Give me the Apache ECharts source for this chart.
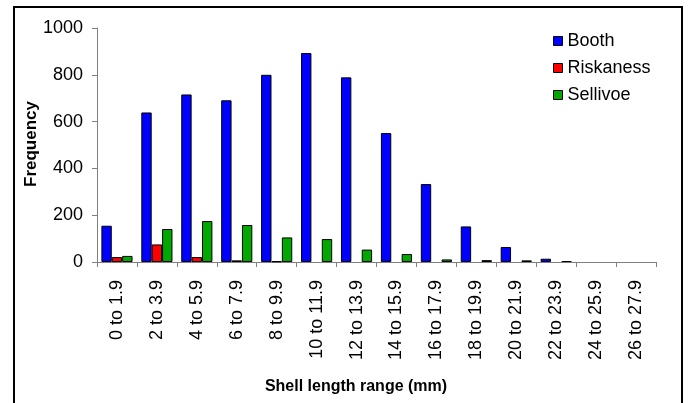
<!DOCTYPE html>
<html><head><meta charset="utf-8">
<script src="https://cdn.jsdelivr.net/npm/echarts@6/dist/echarts.min.js"></script>
<style>html,body{margin:0;padding:0;background:#fff}#c{width:689px;height:403px}</style>
</head><body><div id="c"></div>
<script>
const categories = ["0 to 1.9","2 to 3.9","4 to 5.9","6 to 7.9","8 to 9.9","10 to 11.9","12 to 13.9","14 to 15.9","16 to 17.9","18 to 19.9","20 to 21.9","22 to 23.9","24 to 25.9","26 to 27.9"];
const booth =     [155, 639, 716, 691, 800, 893, 789, 551, 333, 152, 64, 14, 0, 0];
const riskaness = [21, 75, 21, 7, 3, 0, 0, 0, 0, 0, 0, 0, 0, 0];
const sellivoe =  [26, 141, 175, 158, 105, 98, 53, 34, 11, 8, 7, 4, 0, 0];
const yTicks = [0, 200, 400, 600, 800, 1000];
const seriesNames = ["Booth", "Riskaness", "Sellivoe"];
const colors = ["#0000FF", "#FF0000", "#00A800"];

const font = "Liberation Sans, Arial, sans-serif";
const chart = echarts.init(document.getElementById('c'), null, {renderer: 'canvas'});
const mk = (name, data, color) => ({
  name, type: 'bar', data: data.map(v => v === 0 ? '-' : v), barGap: '0%', barCategoryGap: '22%',
  itemStyle: {color, borderColor: '#000', borderWidth: 1},
  silent: true
});
chart.setOption({
  animation: false,
  backgroundColor: '#fff',
  grid: {left: 97, right: 33, top: 28, bottom: 141, containLabel: false},
  legend: {
    orient: 'vertical', left: 548, top: 27, itemGap: 9,
    itemWidth: 9, itemHeight: 9, icon: 'rect',
    data: seriesNames.map(n => ({name: n, itemStyle: {borderColor: '#000', borderWidth: 1}})),
    textStyle: {fontFamily: font, fontSize: 18, color: '#000', padding: [0,0,0,0]}
  },
  xAxis: {
    type: 'category', data: categories,
    axisLine: {lineStyle: {color: '#808080', width: 1}},
    axisTick: {show: true, alignWithLabel: false, length: 5, lineStyle: {color: '#808080'}},
    axisLabel: {rotate: 90, margin: 18, fontFamily: font, fontSize: 18, color: '#000', interval: 0}
  },
  yAxis: {
    type: 'value', min: yTicks[0], max: yTicks[yTicks.length-1], interval: 200,
    axisLine: {show: true, lineStyle: {color: '#808080', width: 1}},
    axisTick: {show: true, length: 5, lineStyle: {color: '#808080'}},
    splitLine: {show: false},
    axisLabel: {margin: 14, fontFamily: font, fontSize: 18, color: '#000', formatter: v => String(v)}
  },
  series: [mk(seriesNames[0], booth, colors[0]), mk(seriesNames[1], riskaness, colors[1]), mk(seriesNames[2], sellivoe, colors[2])],
  graphic: [
    {type: 'rect', shape: {x: 14, y: 7, width: 668, height: 430}, style: {fill: null, stroke: '#000', lineWidth: 2}, silent: true},
    {type: 'text', x: 356, y: 387, style: {text: 'Shell length range (mm)', font: 'bold 16px ' + font, fill: '#000', textAlign: 'center', textVerticalAlign: 'middle'}},
    {type: 'text', x: 31, y: 144, rotation: Math.PI/2, style: {text: 'Frequency', font: 'bold 17px ' + font, fill: '#000', textAlign: 'center', textVerticalAlign: 'middle'}}
  ]
});
</script></body></html>
